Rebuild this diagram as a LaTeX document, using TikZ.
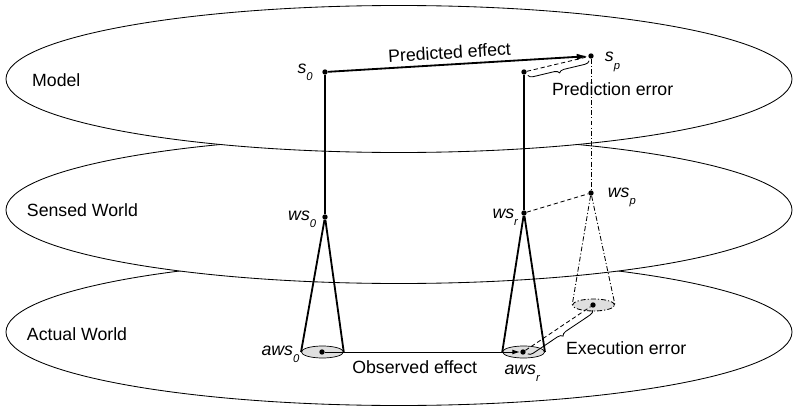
\documentclass[tikz,border=0pt]{standalone}
\usepackage{fontspec}
\setmainfont{Liberation Sans}
\usetikzlibrary{positioning,shapes.geometric,arrows.meta,decorations.pathreplacing}

\newcommand{\stname}[2]{\textit{#1}\raisebox{-5pt}{\fontsize{8}{8}\selectfont\itshape #2}}

\begin{document}
\begin{tikzpicture}[
    font=\fontsize{12.6}{15}\selectfont,
    layer/.style={ellipse, draw, fill=white, line width=0.6pt, minimum width=19.65cm, minimum height=3.675cm},
    dot/.style={circle, fill, inner sep=0pt, minimum size=3.8pt},
    base/.style={ellipse, draw, fill=gray!25, line width=0.5pt, inner sep=0pt, minimum width=1.05cm, minimum height=0.3cm},
    link/.style={line width=1.3pt},
    trace/.style={line width=0.6pt, dash pattern=on 3pt off 2pt},
    proj/.style={line width=0.6pt, dash pattern=on 3.5pt off 1.5pt on 0.8pt off 1.5pt},
    errbrace/.style={line width=0.6pt, decorate, decoration={brace, mirror, amplitude=3.5pt, raise=3pt}},
    ptlabel/.style={inner sep=1pt}
]
\useasboundingbox (0,0) rectangle (19.825,10.15);

% Layers
\node[layer] (actual) at (9.975,1.85) {};
\node[layer] (sensed) at (9.975,4.9) {};
\node[layer] (model) at (9.975,8.175) {};
\node[anchor=west] (modelLbl) at (0.68,8.15) {Model};
\node[anchor=west] (sensedLbl) at (0.55,4.888) {Sensed World};
\node[anchor=west] (actualLbl) at (0.55,1.787) {Actual World};

% Bases of the cones
\node[base] (aws0b) at (8.06,1.35) {};
\node[base] (awsrb) at (13.09,1.35) {};
\node[base, proj] (awspb) at (14.84,2.525) {};

% States
\node[dot] (s0) at (8.125,8.35) {};
\node[dot] (sr) at (13.1,8.35) {};
\node[dot] (sp) at (14.775,8.75) {};
\node[dot] (ws0) at (8.125,4.725) {};
\node[dot] (wsr) at (13.1,4.825) {};
\node[dot] (wsp) at (14.775,5.325) {};
\node[dot] (aws0) at (8.05,1.35) {};
\node[dot] (awsr) at (13.075,1.35) {};
\node[dot] (awsp) at (14.825,2.525) {};

\node[ptlabel, left=5.5pt of s0, yshift=-0.5pt] (s0Lbl) {\stname{s}{0}};
\node[ptlabel, right=6.6pt of sp, yshift=-4.2pt] (spLbl) {\stname{s}{p}};
\node[ptlabel, left=3pt of ws0, yshift=-1.4pt] (ws0Lbl) {\stname{ws}{0}};
\node[ptlabel, left=1pt of wsr, yshift=-2.8pt] (wsrLbl) {\stname{ws}{r}};
\node[ptlabel, right=8.7pt of wsp, yshift=-2.8pt] (wspLbl) {\stname{ws}{p}};
\node[ptlabel, left=0pt of aws0b, yshift=-1.4pt] (aws0Lbl) {\stname{aws}{0}};
\node[ptlabel, below=3.2pt of awsrb, xshift=-1pt] (awsrLbl) {\stname{aws}{r}};

% Observed path
\draw[link] (s0) -- (ws0);
\draw[link] (ws0) -- (aws0b.west);
\draw[link] (ws0) -- (aws0b.east);
\draw[link] (sr) -- (wsr);
\draw[link] (wsr) -- (awsrb.west);
\draw[link] (wsr) -- (awsrb.east);

% Predicted path
\draw[proj] (sp) -- (wsp);
\draw[proj] (wsp) -- (awspb.west);
\draw[proj] (wsp) -- (awspb.east);
\draw[trace] (wsr) -- (wsp);

% Effects
\draw[link, -{Latex[length=8pt,width=4.5pt]}] (s0) -- (sp)
    node[pos=0.47, above, sloped] (predLbl) {Predicted effect};
\draw[line width=0.7pt, -{Latex[length=5.5pt,width=3.5pt]}] (aws0) -- (awsr)
    node[pos=0.46, below=2.8pt] (obsLbl) {Observed effect};

% Errors
\draw[trace] (sr) -- (sp);
\draw[errbrace] (sr) -- (sp);
\node[anchor=west] (predErr) at (13.68,7.925) {Prediction error};
\draw[trace] (awsr) -- (awsp);
\draw[errbrace] (awsr) -- (awsp);
\node[anchor=west] (execErr) at (14.03,1.45) {Execution error};

\end{tikzpicture}
\end{document}
